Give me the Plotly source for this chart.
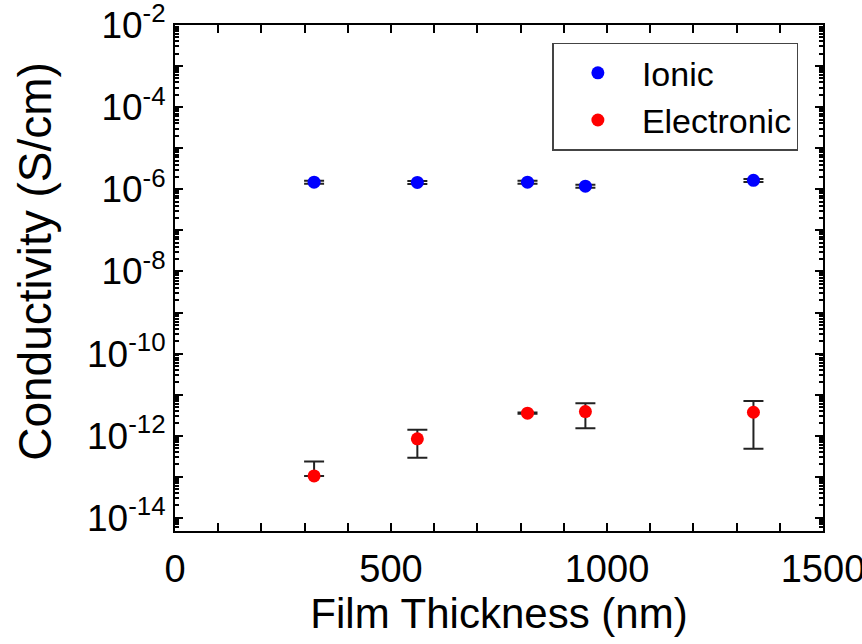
import plotly.graph_objects as go

thickness_nm = [322, 561, 816, 950, 1339]
ionic = [1.49e-6, 1.47e-6, 1.49e-6, 1.19e-6, 1.65e-6]
ionic_err = [0.12e-6, 0.12e-6, 0.12e-6, 0.10e-6, 0.14e-6]
electronic = [1.05e-13, 8.4e-13, 3.53e-12, 3.86e-12, 3.73e-12]
electronic_err_plus = [1.29e-13, 5.5e-13, 0.12e-12, 2.33e-12, 3.25e-12]
electronic_err_minus = [0.0, 5.5e-13, 0.12e-12, 2.33e-12, 3.25e-12]

y_decades = list(range(-14, -1))
y_tickvals = [10.0 ** d for d in y_decades]
y_ticktext = [f"10<sup>{d}</sup>" if d % 2 == 0 else "" for d in y_decades]
y_minor = [m * 10.0 ** d for d in range(-15, -2) for m in range(2, 10)]

font_family = "Liberation Sans, Arial, sans-serif"
err_style = dict(type="data", color="#222222", thickness=2, width=10, visible=True)

fig = go.Figure()
fig.add_trace(go.Scatter(
    x=thickness_nm, y=ionic, mode="markers", name="Ionic",
    marker=dict(color="#0000ff", size=13),
    error_y=dict(array=ionic_err, **err_style),
))
fig.add_trace(go.Scatter(
    x=thickness_nm, y=electronic, mode="markers", name="Electronic",
    marker=dict(color="#ff0000", size=13),
    error_y=dict(array=electronic_err_plus, arrayminus=electronic_err_minus,
                 symmetric=False, **err_style),
))

fig.update_layout(
    width=862, height=644,
    margin=dict(l=175, r=39, t=25, b=113, autoexpand=False),
    paper_bgcolor="white", plot_bgcolor="white",
    font=dict(family=font_family, color="black", size=38),
    showlegend=True,
    legend=dict(
        x=0.962, y=0.965, xanchor="right", yanchor="top",
        bgcolor="white", bordercolor="#444444", borderwidth=1.5,
        font=dict(size=34), itemwidth=78,
    ),
    annotations=[dict(
        text="Conductivity (S/cm)", xref="paper", yref="paper",
        x=-0.216, y=0.532, xanchor="center", yanchor="middle",
        textangle=-90, showarrow=False, font=dict(size=46),
    )],
)
fig.update_xaxes(
    range=[0, 1500], tickvals=[0, 500, 1000, 1500], automargin=False,
    ticks="inside", ticklen=8, tickwidth=1.5, tickcolor="black",
    minor=dict(tickvals=list(range(100, 1500, 100)), ticks="inside", ticklen=8,
               tickwidth=1.5, tickcolor="black", showgrid=False),
    showline=True, linecolor="black", linewidth=2, mirror="ticks",
    showgrid=False, zeroline=False,
    tickfont=dict(size=38), ticklabelstandoff=3, ticklabeloverflow="allow",
    title=dict(text="Film Thickness (nm)", font=dict(size=42), standoff=10),
)
fig.update_yaxes(
    type="log", range=[-14.32, -2], automargin=False,
    tickvals=y_tickvals, ticktext=y_ticktext,
    ticks="inside", ticklen=8, tickwidth=1.5, tickcolor="black",
    minor=dict(tickvals=y_minor, ticks="inside", ticklen=4, tickwidth=1.5,
               tickcolor="black", showgrid=False),
    showline=True, linecolor="black", linewidth=2, mirror="ticks",
    showgrid=False, zeroline=False,
    tickfont=dict(size=37), ticklabeloverflow="allow",
)

fig.write_html("out.html")
